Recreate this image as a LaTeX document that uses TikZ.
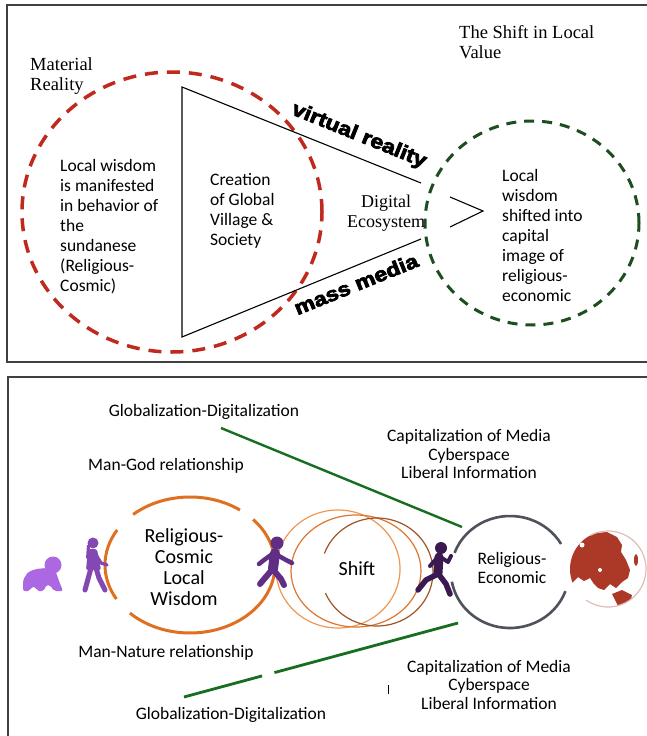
\documentclass[tikz,border=0pt]{standalone}
\usepackage{fontspec}
\setmainfont{Carlito}
\newfontfamily\cambriafont{Liberation Serif}
\newfontfamily\blackfont[FakeBold=3.5]{Liberation Sans Bold}
\usepackage{xcolor}
\usepackage{tikz}
\usetikzlibrary{shapes.geometric,calc}

\definecolor{dashred}{RGB}{192,42,30}
\definecolor{dashgreen}{RGB}{28,78,32}
\definecolor{wisdomorange}{RGB}{222,112,32}
\definecolor{shiftlight}{RGB}{238,152,86}
\definecolor{shiftmid}{RGB}{220,118,48}
\definecolor{shiftdark}{RGB}{158,84,38}
\definecolor{econgray}{RGB}{78,82,92}
\definecolor{linegreen}{RGB}{22,110,32}
\definecolor{babyviolet}{RGB}{172,104,226}
\definecolor{womanviolet}{RGB}{132,72,178}
\definecolor{manviolet}{RGB}{96,46,132}
\definecolor{runnerviolet}{RGB}{58,26,80}
\definecolor{globered}{RGB}{172,56,40}
\definecolor{globerim}{RGB}{222,190,182}

\tikzset{
  txt/.style={font=\fontsize{17.5}{20}\selectfont, align=left, inner sep=0pt},
  ctxt/.style={font=\fontsize{17.5}{18.5}\selectfont, align=center, inner sep=0pt},
  serif txt/.style={font=\cambriafont\fontsize{18.5}{20}\selectfont, align=left, inner sep=0pt},
  media/.style={font=\blackfont\fontsize{20}{20}\selectfont, inner sep=0pt},
  reddash/.style={draw=dashred, line width=3.5pt, dash pattern=on 13pt off 9pt},
  greendash/.style={draw=dashgreen, line width=3pt, dash pattern=on 10pt off 8pt},
  panel/.style={draw=black!75, line width=2pt},
  gdline/.style={draw=linegreen, line width=2.4pt},
  limb/.style={line cap=round, line join=round}
}

\begin{document}
\begin{tikzpicture}[x=1pt, y=-1pt]
    \useasboundingbox (0,0) rectangle (647,736);
    \fill[white] (0,0) rectangle (647,736);

    \draw[panel] (650,5) -- (7,5) -- (7,362) -- (650,362);
    \node[ellipse, reddash, minimum width=300pt, minimum height=280pt] (material) at (172,212) {};
    \node[ellipse, greendash, minimum width=214pt, minimum height=204pt] (shifted) at (532,223) {};

    \coordinate (tritop) at (182,87);
    \coordinate (tribot) at (182,337);
    \coordinate (virtualend) at (421,183);
    \coordinate (massend) at (421,239);
    \draw[line width=1.1pt] (virtualend) -- (tritop) -- (tribot) -- (massend);
    \draw[line width=1.1pt] (450,197) -- (483,211) -- (450,227);

    \node[serif txt, anchor=west] (matreal) at (30,76) {Material\\Reality};
    \node[serif txt, anchor=west] (shifttitle) at (459,42.5) {The Shift in Local\\Value};
    \node[txt, anchor=west] (localwisdom) at (60,227) {Local wisdom\\is manifested\\in behavior of\\the\\sundanese\\(Religious-\\Cosmic)};
    \node[txt, anchor=west] (creation) at (210,211) {Creation\\of Global\\Village \&\\Society};
    \node[serif txt, align=center, font=\cambriafont\fontsize{18}{20}\selectfont] (ecosystem) at (386,213) {Digital\\Ecosystem};
    \node[txt, anchor=west] (capitalimage) at (502,235) {Local\\wisdom\\shifted into\\capital\\image of\\religious-\\economic};
    \node[media, rotate=-22] (virtual) at (359,136) {\scalebox{1.15}[1]{virtual reality}};
    \node[media, rotate=22] (massmedia) at (356,284) {\scalebox{1.15}[1]{mass media}};

    \draw[panel] (8,740) -- (8,377) -- (650,377);

    \coordinate (globtop) at (221,428);
    \coordinate (econtop) at (462,527);
    \coordinate (globbot) at (184,697);
    \coordinate (econbot) at (458,623);
    \draw[gdline] (globtop) -- (econtop);
    \draw[gdline, line width=2.8pt] (globbot) -- ($(globbot)!0.285!(econbot)$);
    \draw[gdline, line width=2.8pt] ($(globbot)!0.33!(econbot)$) -- (econbot);

    \draw[wisdomorange, line width=3pt] (190,565) ++(228:85 and 68) arc[start angle=228, end angle=306, x radius=85, y radius=68];
    \draw[wisdomorange, line width=3pt] (190,565) ++(318:85 and 68) arc[start angle=318, end angle=495, x radius=85, y radius=68];
    \draw[wisdomorange, line width=3pt] (190,565) ++(150:85 and 68) arc[start angle=150, end angle=211, x radius=85, y radius=68];

    \draw[shiftlight, line width=1.2pt] (338,569) ellipse[x radius=62, y radius=59];
    \draw[shiftmid, line width=1.2pt] (356,571) ellipse[x radius=65, y radius=56];
    \draw[shiftdark, line width=1.2pt] (377,572) ++(200:56 and 54) arc[start angle=200, end angle=517, x radius=56, y radius=54];

    \draw[econgray, line width=2.6pt] (510,572) ++(200:59 and 56) arc[start angle=200, end angle=330, x radius=59, y radius=56];
    \draw[econgray, line width=2.6pt] (510,572) ++(20:59 and 56) arc[start angle=20, end angle=170, x radius=59, y radius=56];

    \fill[babyviolet] (53,565) circle[radius=8.5];
    \fill[babyviolet, rounded corners=2pt] (23,591) -- (23,580) -- (28,572) -- (36,569) -- (46,568) -- (56,572) -- (59,581) -- (63,591) -- (54,591) -- (50,585) -- (46,585) -- (44,591) -- (37,591) -- (36,587) -- (31,587) -- (30,591) -- cycle;

    \fill[womanviolet] (93,543) circle[radius=5.5];
    \fill[womanviolet, rounded corners=2pt] (88,549) -- (97,549) -- (101,570) -- (86,570) -- cycle;
    \fill[womanviolet] (87,545) -- (90,545) -- (89,560) -- (86,558) -- cycle;
    \draw[womanviolet, limb, line width=5pt] (91,568) -- (85,590);
    \draw[womanviolet, limb, line width=5pt] (96,568) -- (99,578) -- (105,590);
    \draw[womanviolet, limb, line width=3.2pt] (95,553) -- (101,563) -- (107,565);

    \fill[manviolet] (277,543) circle[radius=6.5];
    \draw[manviolet, limb, line width=10pt] (275,553) -- (273,569);
    \draw[manviolet, limb, line width=6pt] (271,571) -- (265,578) -- (260,584);
    \draw[manviolet, limb, line width=6pt] (275,572) -- (281,579) -- (284,585);
    \draw[manviolet, limb, line width=4.5pt] (271,555) -- (264,560) -- (259,564);
    \draw[manviolet, limb, line width=4.5pt] (279,556) -- (286,560) -- (292,563);

    \fill[runnerviolet] (441,548) circle[radius=6];
    \draw[runnerviolet, limb, line width=9pt] (439,557) -- (438,573);
    \draw[runnerviolet, limb, line width=5.5pt] (436,575) -- (426,580) -- (418,590);
    \draw[runnerviolet, limb, line width=5.5pt] (440,576) -- (446,584) -- (450,594);
    \draw[runnerviolet, limb, line width=4pt] (437,558) -- (430,566);
    \draw[runnerviolet, limb, line width=4pt] (442,558) -- (448,562) -- (451,556);

    \begin{scope}
        \clip (568,520) rectangle (650,620);
        \clip (608,569) circle[radius=38];
        \fill[globered] (566,540) -- (575,535) -- (585,532) -- (597,533) -- (607,532) -- (617,537) -- (622,545) -- (621,552) -- (626,560) -- (630,570) -- (628,578) -- (622,582) -- (616,588) -- (610,584) -- (604,590) -- (598,588) -- (594,584) -- (590,578) -- (584,581) -- (578,577) -- (572,583) -- (566,580) -- cycle;
        \fill[globered] (612,594) -- (622,590) -- (632,595) -- (630,604) -- (618,606) -- cycle;
        \fill[globered] (636,560) ellipse[x radius=2, y radius=6];
        \fill[white] (582,545) circle[radius=2.5];
        \fill[white] (600,570) circle[radius=2];
    \end{scope}
    \draw[globerim, line width=1.2pt] (608,569) ++(-118:38) arc[start angle=-118, end angle=125, radius=38];

    \node[ctxt] (globtoplabel) at (204,412) {Globalization-Digitalization};
    \node[ctxt] (captop) at (469,454) {Capitalization of Media\\Cyberspace\\Liberal Information};
    \node[ctxt] (mangod) at (166,466) {Man-God relationship};
    \node[ctxt, font=\fontsize{20}{21}\selectfont] (cosmic) at (184,567.5) {Religious-\\Cosmic\\Local\\Wisdom};
    \node[ctxt, font=\fontsize{20}{21}\selectfont] (shift) at (357,569) {Shift};
    \node[ctxt, font=\fontsize{17.5}{19}\selectfont] (econ) at (512,567.5) {Religious-\\Economic};
    \node[ctxt] (mannature) at (166,653) {Man-Nature relationship};
    \node[ctxt] (capbot) at (489,684.5) {Capitalization of Media\\Cyberspace\\Liberal Information};
    \node[ctxt] (globbotlabel) at (231,715) {Globalization-Digitalization};
    \draw[line width=1pt] (388,685) -- (388,694);
\end{tikzpicture}
\end{document}
